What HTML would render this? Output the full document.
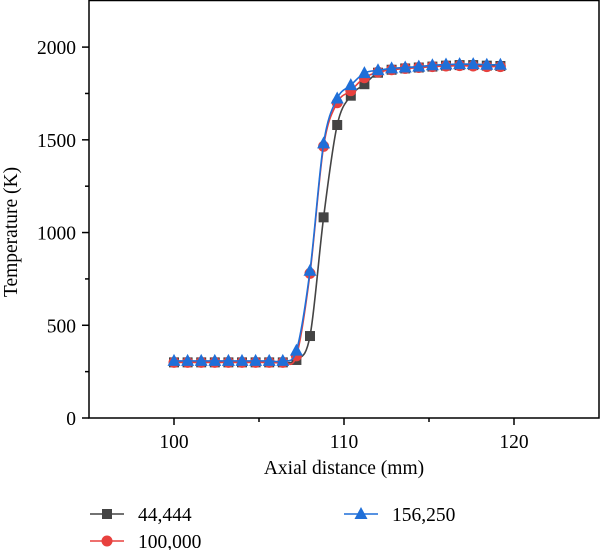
<!DOCTYPE html>
<html><head><meta charset="utf-8"><style>
body{margin:0;background:#fff}
svg{display:block;font-family:"Liberation Serif",serif}
</style></head><body>
<svg id="c" width="600" height="550" xmlns="http://www.w3.org/2000/svg"></svg>
<script>
const xs = [100,100.8,101.6,102.4,103.2,104.0,104.8,105.6,106.4,107.2,108.0,108.8,109.6,110.4,111.2,112.0,112.8,113.6,114.4,115.2,116.0,116.8,117.6,118.4,119.2];
const s1 = [300,300,300,300,300,300,300,300,300,313,442,1082,1580,1738,1800,1862,1878,1885,1890,1895,1900,1903,1903,1900,1898];
const s2 = [300,300,300,300,300,300,300,300,300,335,780,1465,1700,1765,1835,1865,1878,1885,1890,1895,1898,1900,1898,1895,1895];
const s3 = [308,308,308,308,308,308,308,308,308,363,794,1481,1723,1795,1860,1875,1885,1890,1895,1902,1906,1908,1908,1905,1905];
const names = ["44,444","100,000","156,250"];
const xTicks = [100,110,120];
const yTicks = [0,500,1000,1500,2000];

const NS="http://www.w3.org/2000/svg";
const svg=document.getElementById('c');
const X0=89,X1=599,Y0=418,Y1=0;
const xmin=95,xmax=125,ymin=0,ymax=2254;
const sx=v=>X0+(v-xmin)/(xmax-xmin)*(X1-X0);
const sy=v=>Y0-(v-ymin)/(ymax-ymin)*(Y0-Y1);
function el(t,a,p){const e=document.createElementNS(NS,t);for(const k in a)e.setAttribute(k,a[k]);(p||svg).appendChild(e);return e;}

const frame=el('rect',{x:X0,y:0.5,width:X1-X0,height:Y0-0.5,fill:'none',stroke:'#000','stroke-width':1.5});



xTicks.forEach(t=>{
  const l=el('line',{x1:sx(t),x2:sx(t),y1:Y0,y2:Y0+7,stroke:'#000','stroke-width':1.5});
  
  
  const tx=el('text',{x:sx(t),y:Y0+30,'text-anchor':'middle','font-size':19.5});
  tx.textContent=t;
  
  
});
[105,115].forEach(t=>{
  const l=el('line',{x1:sx(t),x2:sx(t),y1:Y0,y2:Y0+4,stroke:'#000','stroke-width':1.5});
  
  
});
yTicks.forEach(t=>{
  const l=el('line',{x1:X0-7,x2:X0,y1:sy(t),y2:sy(t),stroke:'#000','stroke-width':1.5});
  
  
  const tx=el('text',{x:X0-13,y:sy(t)+7,'text-anchor':'end','font-size':19.5});
  tx.textContent=t;
  
  
});
[250,750,1250,1750].forEach(t=>{
  const l=el('line',{x1:X0-4,x2:X0,y1:sy(t),y2:sy(t),stroke:'#000','stroke-width':1.5});
  
  
});
const xt=el('text',{x:344,y:474,'text-anchor':'middle','font-size':19.5});
xt.textContent='Axial distance (mm)';


const yt=el('text',{x:0,y:0,'text-anchor':'middle','font-size':19.5,transform:'translate(17,232) rotate(-90)'});
yt.textContent='Temperature (K)';



function smooth(pts){
  let d=`M${pts[0][0]},${pts[0][1]}`;
  for(let i=0;i<pts.length-1;i++){
    const p0=pts[Math.max(0,i-1)],p1=pts[i],p2=pts[i+1],p3=pts[Math.min(pts.length-1,i+2)];
    const c1=[p1[0]+(p2[0]-p0[0])/6,p1[1]+(p2[1]-p0[1])/6];
    const c2=[p2[0]-(p3[0]-p1[0])/6,p2[1]-(p3[1]-p1[1])/6];
    d+=`C${c1[0]},${c1[1]} ${c2[0]},${c2[1]} ${p2[0]},${p2[1]}`;
  }
  return d;
}
function marker(kind,x,y,col,g){
  let m;
  if(kind==0) m=el('rect',{x:x-5,y:y-5,width:10,height:10,fill:col},g);
  else if(kind==1) m=el('circle',{cx:x,cy:y,r:5.5,fill:col},g);
  else m=el('polygon',{points:`${x},${y-7} ${x+6.5},${y+5} ${x-6.5},${y+5}`,fill:col},g);
  return m;
}
const series=[s1,s2,s3];
const cols=['#444444','#e8413e','#1f6fd8'];
series.forEach((s,k)=>{
  const g=el('g',{});
  
  
  const pts=xs.map((x,i)=>[sx(x),sy(s[i])]);
  const p=el('path',{d:smooth(pts),fill:'none',stroke:cols[k],'stroke-width':1.6},g);
  
  
  pts.forEach(q=>{
    const m=marker(k,q[0],q[1],cols[k],g);
    
    
  });
});
const leg=[[90,514],[90,541],[344,514]];
leg.forEach((L,k)=>{
  const g=el('g',{});
  
  
  el('line',{x1:L[0],x2:L[0]+34,y1:L[1],y2:L[1],stroke:cols[k],'stroke-width':1.6},g);
  marker(k,L[0]+17,L[1],cols[k],g);
  const t=el('text',{x:L[0]+48,y:L[1]+7,'font-size':19.5},g);
  t.textContent=names[k];
});
</script>
</body></html>
